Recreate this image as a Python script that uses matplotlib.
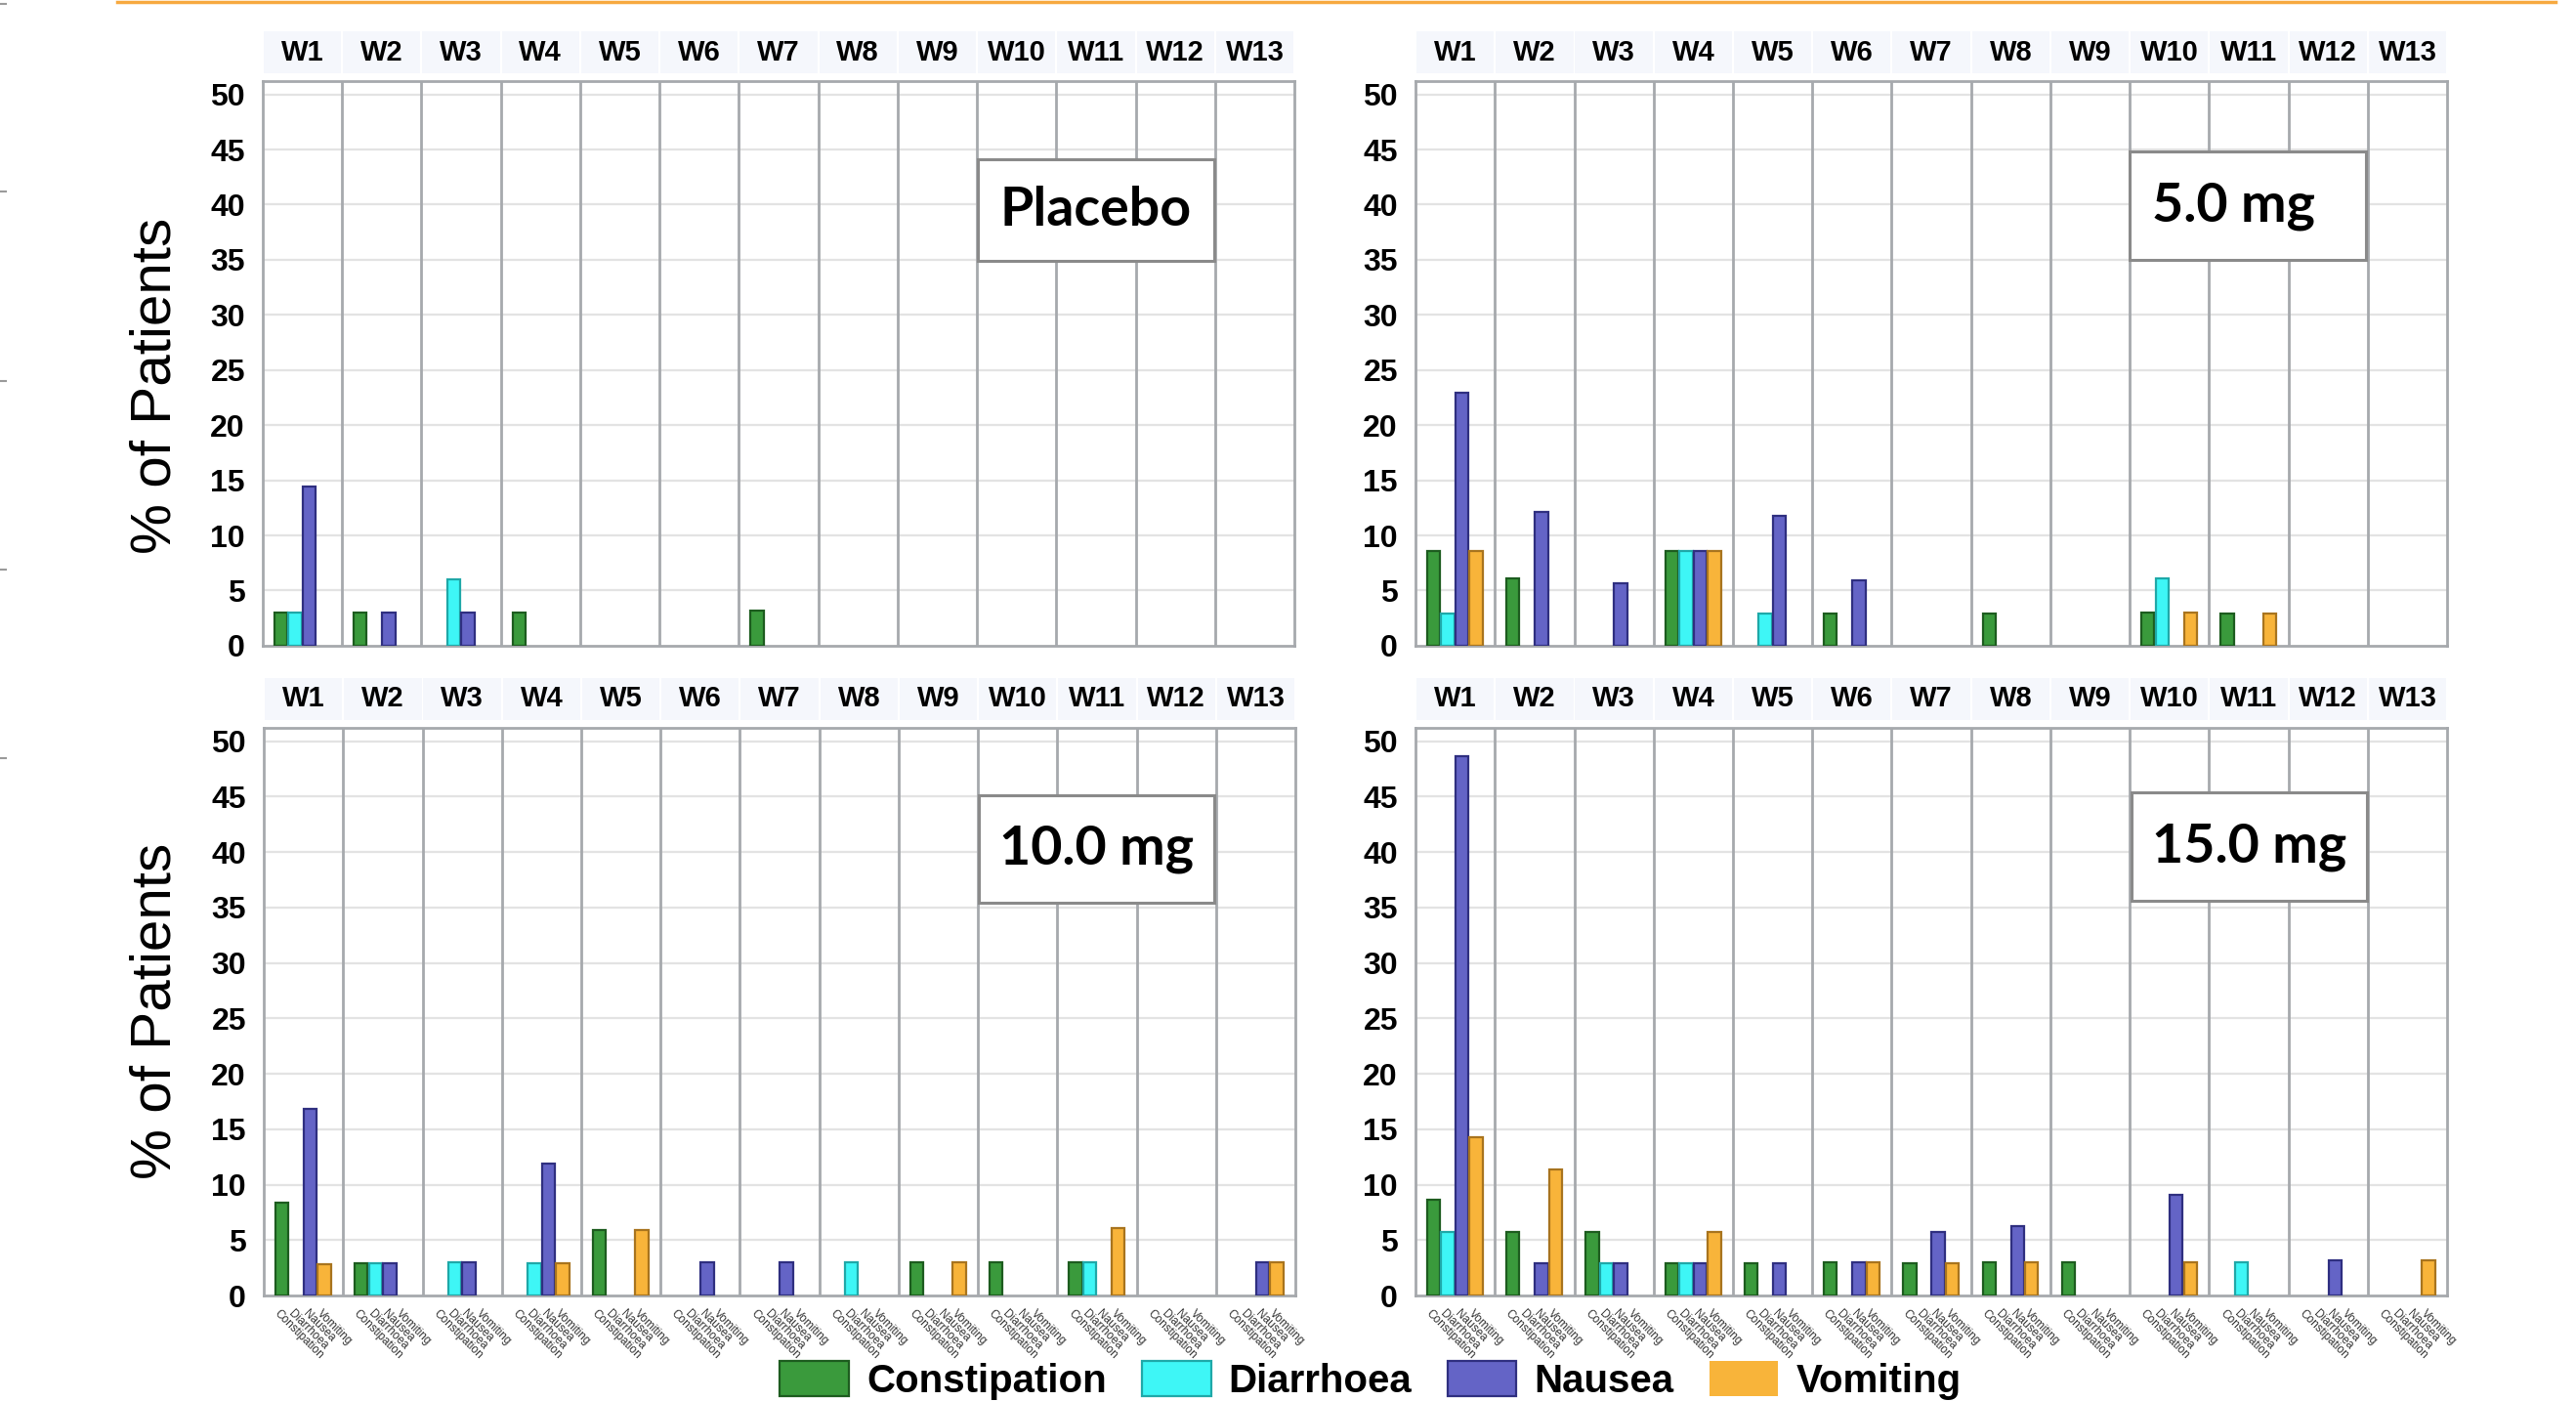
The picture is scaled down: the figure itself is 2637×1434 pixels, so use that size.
import matplotlib.pyplot as plt
from matplotlib.patches import Rectangle
from matplotlib.lines import Line2D
import matplotlib.transforms as mtransforms
import numpy as np

# --- datos ---
weeks = ["W%d" % i for i in range(1, 14)]
symptoms = ["Constipation", "Diarrhoea", "Nausea", "Vomiting"]

placebo_c = [3.0, 3.0, 0, 3.0, 0, 0, 3.2, 0, 0, 0, 0, 0, 0]
placebo_d = [3.0, 0, 6.0, 0, 0, 0, 0, 0, 0, 0, 0, 0, 0]
placebo_n = [14.4, 3.0, 3.0, 0, 0, 0, 0, 0, 0, 0, 0, 0, 0]
placebo_v = [0, 0, 0, 0, 0, 0, 0, 0, 0, 0, 0, 0, 0]

mg5_c = [8.6, 6.1, 0, 8.6, 0, 2.9, 0, 2.9, 0, 3.0, 2.9, 0, 0]
mg5_d = [2.9, 0, 0, 8.6, 2.9, 0, 0, 0, 0, 6.1, 0, 0, 0]
mg5_n = [22.9, 12.1, 5.7, 8.6, 11.8, 5.9, 0, 0, 0, 0, 0, 0, 0]
mg5_v = [8.6, 0, 0, 8.6, 0, 0, 0, 0, 0, 3.0, 2.9, 0, 0]

mg10_c = [8.4, 2.9, 0, 0, 5.9, 0, 0, 0, 3.0, 3.0, 3.0, 0, 0]
mg10_d = [0, 2.9, 3.0, 2.9, 0, 0, 0, 3.0, 0, 0, 3.0, 0, 0]
mg10_n = [16.8, 2.9, 3.0, 11.9, 0, 3.0, 3.0, 0, 0, 0, 0, 0, 3.0]
mg10_v = [2.8, 0, 0, 2.9, 5.9, 0, 0, 0, 3.0, 0, 6.1, 0, 3.0]

mg15_c = [8.6, 5.7, 5.7, 2.9, 2.9, 3.0, 2.9, 3.0, 3.0, 0, 0, 0, 0]
mg15_d = [5.7, 0, 2.9, 2.9, 0, 0, 0, 0, 0, 0, 3.0, 0, 0]
mg15_n = [48.6, 2.9, 2.9, 2.9, 2.9, 3.0, 5.7, 6.3, 0, 9.1, 0, 3.2, 0]
mg15_v = [14.3, 11.4, 0, 5.7, 0, 3.0, 2.9, 3.0, 0, 3.0, 0, 0, 3.2]

panels = [
    ("Placebo", [placebo_c, placebo_d, placebo_n, placebo_v]),
    ("5.0 mg", [mg5_c, mg5_d, mg5_n, mg5_v]),
    ("10.0 mg", [mg10_c, mg10_d, mg10_n, mg10_v]),
    ("15.0 mg", [mg15_c, mg15_d, mg15_n, mg15_v]),
]

# --- estilo ---
fill_colors = ["#3a9a3c", "#3ef6f6", "#6464c6", "#f8b43a"]
edge_colors = ["#1d5c1f", "#1fa8a8", "#2f2f80", "#a8741e"]
grid_gray = "#a6a9ad"
label_font = ["Liberation Sans", "DejaVu Sans"]
box_font = ["Lato", "DejaVu Sans"]

W, H = 2637, 1434
fig = plt.figure(figsize=(W / 100, H / 100), dpi=100)
fig.patch.set_facecolor("white")

# posiciones de los ejes (fracciones de figura)
ax_pos = [
    (0.1020, 0.5391, 0.4005, 0.4030),
    (0.5495, 0.5391, 0.4005, 0.4030),
    (0.1024, 0.0753, 0.4005, 0.4052),
    (0.5495, 0.0753, 0.4005, 0.4052),
]
# cajas de texto (coordenadas de ejes)
box_pos = [
    (0.693, 0.682, 0.229, 0.180),
    (0.692, 0.683, 0.229, 0.192),
    (0.693, 0.692, 0.228, 0.189),
    (0.694, 0.695, 0.228, 0.191),
]
text_dx = [0, -0.014, 0, 0]

bar_w = 0.165
offsets = [0.228, 0.407, 0.586, 0.764]
x = np.arange(len(weeks))

bars_for_legend = None
for p, (name, series) in enumerate(panels):
    ax = fig.add_axes(ax_pos[p])
    ax.set_xlim(0, len(weeks))
    ax.set_ylim(0, 51.2)

    # grilla horizontal
    for yv in range(5, 55, 5):
        ax.axhline(yv, color="#e3e3e3", lw=1.6, zorder=0)
    # separadores de semana
    for xv in range(1, len(weeks)):
        ax.axvline(xv, color=grid_gray, lw=2.0, zorder=1)

    handles = []
    for k, vals in enumerate(series):
        edges = [edge_colors[k] if v > 0 else "none" for v in vals]
        b = ax.bar(x + offsets[k], vals, width=bar_w, color=fill_colors[k],
                   edgecolor=edges, linewidth=1.6, zorder=3,
                   label=symptoms[k])
        handles.append(b)
    if bars_for_legend is None:
        bars_for_legend = handles

    for s in ax.spines.values():
        s.set_color(grid_gray)
        s.set_linewidth(2.0)

    ax.set_yticks(range(0, 55, 5))
    ax.set_yticklabels([str(v) for v in range(0, 55, 5)],
                       fontsize=23, fontweight="bold", family=label_font)
    ax.tick_params(axis="y", length=0, pad=13)

    if p >= 2:
        pos = []
        labs = []
        for i in x:
            for k in range(4):
                pos.append(i + offsets[k] - 0.07)
                labs.append(symptoms[k])
        ax.set_xticks(pos)
        ax.set_xticklabels(labs, rotation=-45, ha="left", va="center",
                           rotation_mode="anchor", fontsize=8.5,
                           family=label_font, color="#333333")
        ax.tick_params(axis="x", length=0, pad=12)
    else:
        ax.set_xticks([])

    # cabecera de semanas
    trans = mtransforms.blended_transform_factory(ax.transData, ax.transAxes)
    for i, wk in enumerate(weeks):
        ax.add_patch(Rectangle((i + 0.012, 1.014), 0.976, 0.074,
                               transform=trans, clip_on=False,
                               facecolor="#f5f7fc", edgecolor="none"))
        ax.text(i + 0.5, 1.051, wk, transform=trans, ha="center",
                va="center", fontsize=21, fontweight="bold",
                family=label_font)

    # caja con la dosis
    bx, by, bw, bh = box_pos[p]
    ax.add_patch(Rectangle((bx, by), bw, bh, transform=ax.transAxes,
                           facecolor="white", edgecolor="#8a8a8a",
                           lw=2.2, zorder=5))
    ax.text(bx + bw / 2 + text_dx[p], by + bh / 2, name,
            transform=ax.transAxes, ha="center", va="center",
            fontsize=40, fontweight="bold", family=box_font, zorder=6)

# etiquetas del eje y
for yc in [1 - 395 / H, 1 - 1035 / H]:
    fig.text(0.0605, yc, "% of Patients", rotation=90, ha="center",
             va="center", fontsize=42, family=label_font)

# linea naranja superior y marcas grises a la izquierda
fig.add_artist(Line2D([120 / W, 2616 / W], [1 - 1.5 / H, 1 - 1.5 / H],
                      color="#f7a940", lw=2.5))
for yp in [4, 196, 390, 583, 776]:
    fig.add_artist(Line2D([0, 6 / W], [1 - yp / H, 1 - yp / H],
                          color="#9a9a9a", lw=1.5))

# leyenda
fig.legend(handles=bars_for_legend, labels=symptoms, loc="lower center",
           bbox_to_anchor=(0.532, 0.001), ncol=4, frameon=False,
           prop={"family": label_font, "weight": "bold", "size": 29},
           handlelength=1.75, handleheight=1.0, handletextpad=0.45,
           columnspacing=0.9, borderaxespad=0, borderpad=0)

fig.savefig("out.png", dpi=100)
